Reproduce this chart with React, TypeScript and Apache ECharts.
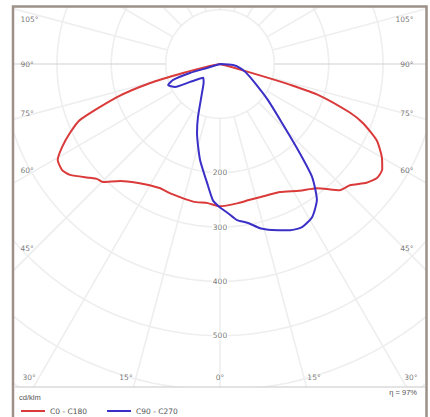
import React, { useEffect, useRef } from "react";
import * as echarts from "echarts";

// C0 (right half of red curve): gamma (deg from nadir) and intensity (cd/klm)
const c0Gamma = [0, 8, 12, 17, 25, 32, 38, 43.5, 47, 51, 54, 57, 60, 64, 67.5, 69.5, 72.5, 73.5, 74, 76, 90];
const c0Values = [262, 258, 256, 256, 260, 275, 290, 320, 327, 347, 357, 356, 344, 321, 285, 255, 190, 135, 86, 15, 0];
// C180 (left half of red curve)
const c180Gamma = [0, 5, 11, 21, 26, 35, 40.5, 44.8, 47, 48.8, 53.5, 56.1, 59.4, 62.3, 65.3, 68.2, 72.2, 74.8, 76.3, 78.7, 90];
const c180Values = [262, 257, 258, 255, 254, 267, 283, 306, 310, 318, 343, 350, 347, 328, 304, 278, 199, 133, 70, 19, 0];
// C90 (right half of blue curve)
const c90Gamma = [0, 3.1, 6.2, 10, 13.7, 17.4, 22.9, 26.7, 31, 35.5, 39.2, 42.2, 46.4, 53.1, 61.5, 72, 78.7, 85.6, 90];
const c90Values = [264, 275, 289, 297, 311, 320, 332, 336, 329, 307, 268, 214, 158, 110, 73, 50, 38, 24, 0];
// C270 (left half of blue curve)
const c270Gamma = [0, 1, 3, 6.2, 11.8, 18.4, 22.5, 31.8, 42, 50.5, 59, 63, 68, 71.2, 73.3, 73, 90];
const c270Values = [264, 260, 251, 220, 180, 134, 106, 63, 45, 40, 64, 93, 103, 91, 58, 25, 0];

const radialTicks = [100, 200, 300, 400, 500, 600, 700];
const radialLabelValues = [200, 300, 400, 500];
const angleTickLabels = [0, 15, 30, 45, 60, 75, 90, 105];
const rayStep = 15;

const seriesNames = ["C0 - C180", "C90 - C270"];
const etaText = "η = 97%";
const unitText = "cd/klm";

// layout (pixels)
const W = 430;
const H = 417;
const CX = 220;
const CY = 64;
const K = 0.5434; // px per cd/klm
const G_LEFT = 15;
const G_RIGHT = 425;
const G_TOP = 8;
const G_BOTTOM = 387;

const xMin = (G_LEFT - CX) / K;
const xMax = (G_RIGHT - CX) / K;
const yMax = (CY - G_TOP) / K;
const yMin = -(G_BOTTOM - CY) / K;

const rad = (d: number) => (d * Math.PI) / 180;
const toXY = (g: number, r: number, side: number) => [side * r * Math.sin(rad(g)), -r * Math.cos(rad(g))];

function curve(leftG: number[], leftV: number[], rightG: number[], rightV: number[]) {
  const pts: number[][] = [];
  for (let i = leftG.length - 1; i >= 0; i--) pts.push(toXY(leftG[i], leftV[i], -1));
  for (let i = 1; i < rightG.length; i++) pts.push(toXY(rightG[i], rightV[i], 1));
  return pts;
}

const FONT = "DejaVu Sans";
const TXT = "#555";
const GRID = "#eeeeee";

export default function App() {
  const ref = useRef<HTMLDivElement>(null);
  useEffect(() => {
    if (!ref.current) return;
    const chart = echarts.init(ref.current, null, { renderer: "svg" });

    const gridSeries: any[] = [];
    radialTicks.forEach((r) => {
      const pts: number[][] = [];
      for (let a = 0; a <= 360; a += 2) pts.push(toXY(a, r, 1));
      gridSeries.push({
        type: "line",
        data: pts,
        symbol: "none",
        silent: true,
        z: 1,
        lineStyle: { color: GRID, width: 1.6 },
      });
    });
    for (let a = 0; a < 360; a += rayStep) {
      const isH = a === 90 || a === 270;
      gridSeries.push({
        type: "line",
        data: [toXY(a, 100, 1), toXY(a, 1200, 1)],
        symbol: "none",
        silent: true,
        z: isH ? 2 : 1,
        lineStyle: { color: isH ? "#d2d2d2" : GRID, width: isH ? 1.2 : 1.6 },
      });
    }

    // angle labels
    const sideX = 340; // units from center where side labels are anchored
    const topLimit = (CY - 19) / K;
    const bottomY = -(377 - CY) / K;
    const angleLabelData: any[] = [];
    angleTickLabels.forEach((g) => {
      const text = g + "°";
      if (g >= 45) {
        let y = (-sideX * Math.cos(rad(g))) / Math.sin(rad(g));
        if (y > topLimit) y = topLimit;
        angleLabelData.push({ value: [(20 - CX) / K, y], label: { formatter: text, position: "right", distance: 0 } });
        angleLabelData.push({ value: [(414 - CX) / K, y], label: { formatter: text, position: "left", distance: 0 } });
      } else if (g === 0) {
        angleLabelData.push({ value: [0, bottomY], label: { formatter: text, position: "inside" } });
      } else {
        const x = -bottomY * Math.tan(rad(g));
        angleLabelData.push({ value: [-x, bottomY], label: { formatter: text, position: "left", distance: 3 } });
        angleLabelData.push({ value: [x, bottomY], label: { formatter: text, position: "right", distance: 3 } });
      }
    });

    const radialLabelData = radialLabelValues.map((r) => ({
      value: toXY(0, r, 1),
      label: { formatter: String(r) },
    }));

    const option: any = {
      animation: false,
      grid: { left: G_LEFT, right: W - G_RIGHT, top: G_TOP, bottom: H - G_BOTTOM, containLabel: false },
      xAxis: { type: "value", min: xMin, max: xMax, show: false },
      yAxis: { type: "value", min: yMin, max: yMax, show: false },
      legend: {
        data: seriesNames,
        left: 16,
        top: 402,
        icon: "rect",
        itemWidth: 24,
        itemHeight: 2,
        itemGap: 20,
        textStyle: { fontSize: 7.5, color: TXT, fontFamily: FONT },
      },
      series: [
        ...gridSeries,
        {
          type: "scatter",
          data: angleLabelData,
          symbolSize: 1,
          itemStyle: { color: "rgba(0,0,0,0)" },
          silent: true,
          z: 3,
          label: { show: true, fontSize: 7.5, color: TXT, fontFamily: FONT },
        },
        {
          type: "scatter",
          data: radialLabelData,
          symbolSize: 1,
          itemStyle: { color: "rgba(0,0,0,0)" },
          silent: true,
          z: 3,
          label: {
            show: true,
            position: "inside",
            fontSize: 7.5,
            color: TXT,
            fontFamily: FONT,
            backgroundColor: "#fff",
            padding: [0, 1],
          },
        },
        {
          name: seriesNames[0],
          type: "line",
          data: curve(c180Gamma, c180Values, c0Gamma, c0Values),
          symbol: "none",
          smooth: 0.2,
          z: 5,
          lineStyle: { color: "#da3a3a", width: 2 },
          itemStyle: { color: "#da3a3a" },
        },
        {
          name: seriesNames[1],
          type: "line",
          data: curve(c270Gamma, c270Values, c90Gamma, c90Values),
          symbol: "none",
          smooth: 0.2,
          z: 6,
          lineStyle: { color: "#3a2fc6", width: 2 },
          itemStyle: { color: "#3a2fc6" },
        },
      ],
      graphic: [
        {
          type: "rect",
          shape: { x: 13, y: 6.5, width: 413.5, height: 440 },
          style: { fill: "none", stroke: "#9d9088", lineWidth: 2.5 },
          z: 100,
          silent: true,
        },
        {
          type: "line",
          shape: { x1: 15, y1: 387, x2: 425, y2: 387 },
          style: { stroke: "#dadada", lineWidth: 1.5 },
          z: 100,
          silent: true,
        },
        {
          type: "text",
          x: 19,
          y: 397,
          style: { text: unitText, fontSize: 7.5, fill: TXT, font: `7.5px "${FONT}"`, textVerticalAlign: "middle" },
          z: 100,
        },
        {
          type: "text",
          x: 417,
          y: 392,
          style: {
            text: etaText,
            fontSize: 7.5,
            fill: TXT,
            font: `7.5px "${FONT}"`,
            textAlign: "right",
            textVerticalAlign: "middle",
          },
          z: 100,
        },
      ],
    };
    chart.setOption(option);
    return () => chart.dispose();
  }, []);
  return <div ref={ref} style={{ width: W, height: H, position: "absolute", left: 0, top: 0 }} />;
}
